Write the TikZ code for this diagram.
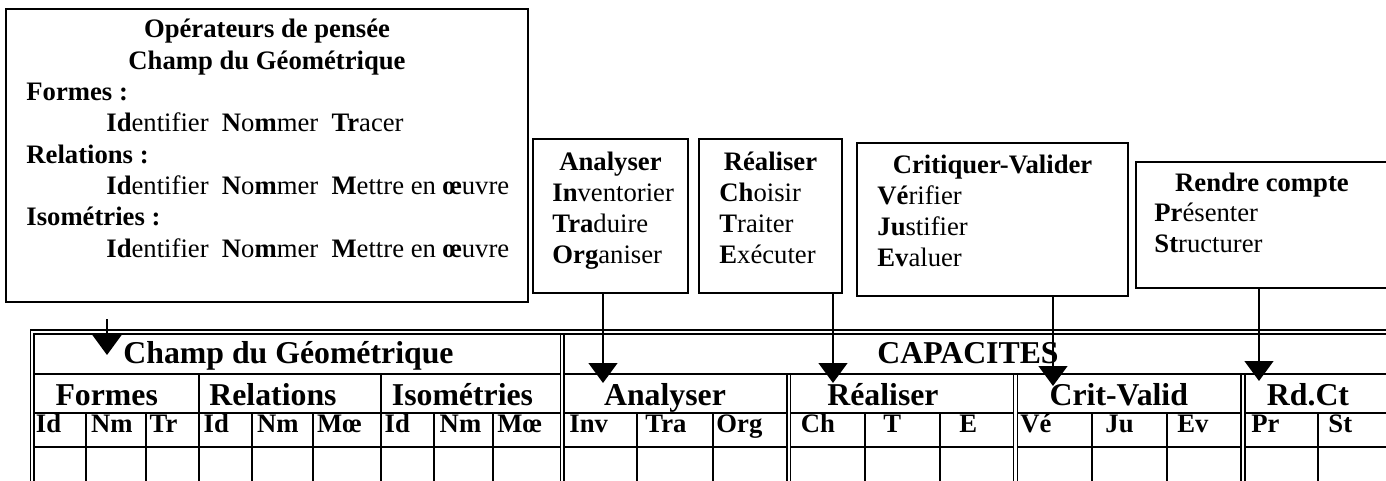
\documentclass[tikz,border=0pt]{standalone}
\usepackage{fontspec}
\setmainfont{Liberation Serif}
\usetikzlibrary{arrows.meta,fit,calc}

\tikzset{
  opbox/.style={draw, line width=0.9pt, inner sep=0pt},
  stem/.style={line width=0.75pt, -{Triangle[width=13pt,length=9pt]}},
  txt/.style={anchor=base west, inner sep=0pt, font=\fontsize{12}{14}\selectfont},
  lbl/.style={txt, font=\fontsize{12}{14}\selectfont\bfseries},
  ttl/.style={anchor=base, inner sep=0pt, font=\fontsize{12}{14}\selectfont\bfseries},
  hd/.style={anchor=base, inner sep=0pt, font=\fontsize{14.3}{17}\selectfont\bfseries},
  sub/.style={anchor=base west, inner sep=0pt, font=\fontsize{12}{14}\selectfont\bfseries},
  tline/.style={line width=0.9pt},
  dline/.style={line width=0.6pt}
}

\begin{document}
\begin{tikzpicture}[x=0.45pt,y=-0.45pt]
\clip (0,0) rectangle (1386,481);

% boxes of operators
\node[opbox, fit={(6,9) (528,302)}] (ops) {};
\node[opbox, fit={(533,139) (688,293)}] (ana) {};
\node[opbox, fit={(699,139) (842,293)}] (rea) {};
\node[opbox, fit={(857,143) (1128,296)}] (crv) {};
\node[opbox, fit={(1136,162) (1390,288)}] (rdc) {};

% text of the big box
\node[ttl] (opsT1) at (267,38) {Opérateurs de pensée};
\node[ttl] (opsT2) at (267,69.3) {Champ du Géométrique};
\foreach \t [count=\i] in {Formes :,Relations :,Isométries :}
  \node[lbl] (opsL\i) at (26,{100.6+62.6*(\i-1)}) {\t};
\node[txt] (opsI1) at (106,131.9) {\textbf{Id}entifier\ \ \textbf{N}o\textbf{m}mer\ \ \textbf{Tr}acer};
\foreach \i/\y in {2/194.5,3/257.1}
  \node[txt] (opsI\i) at (106,\y) {\textbf{Id}entifier\ \ \textbf{N}o\textbf{m}mer\ \ \textbf{M}ettre en \textbf{œ}uvre};

% text of the small boxes
\node[ttl] (anaT) at (610.5,170) {Analyser};
\foreach \t [count=\i] in {{\textbf{In}ventorier},{\textbf{Tra}duire},{\textbf{Org}aniser}}
  \node[txt] (ana\i) at (552,{170+31*\i}) {\t};
\node[ttl] (reaT) at (770.5,170) {Réaliser};
\foreach \t [count=\i] in {{\textbf{Ch}oisir},{\textbf{T}raiter},{\textbf{E}xécuter}}
  \node[txt] (rea\i) at (719,{170+31*\i}) {\t};
\node[ttl] (crvT) at (992.5,173) {Critiquer-Valider};
\foreach \t [count=\i] in {{\textbf{Vé}rifier},{\textbf{Ju}stifier},{\textbf{Ev}aluer}}
  \node[txt] (crv\i) at (877,{173+31*\i}) {\t};
\node[ttl] (rdcT) at (1262,191) {Rendre compte};
\foreach \t [count=\i] in {{\textbf{Pr}ésenter},{\textbf{St}ructurer}}
  \node[txt] (rdc\i) at (1154,{191+30.5*\i}) {\t};

% table frame
\draw[dline] (30.5,481) -- (30.5,330) -- (1390,330);
\draw[dline] (34,481) -- (34,334) -- (1390,334);
\foreach \x in {560.5,564} \draw[dline] (\x,334) -- (\x,481);
\foreach \x in {787,790.5,1013.3,1017.3,1241,1245} \draw[dline] (\x,374) -- (\x,481);
\draw[tline] (34,374) -- (560.5,374) (564,374) -- (1390,374);
\foreach \a/\b in {34/560.5,564/787,790.5/1013.3,1017.3/1241,1245/1390}
  \draw[tline] (\a,413) -- (\b,413) (\a,447) -- (\b,447);
\foreach \x in {199,381} \draw[tline] (\x,374) -- (\x,481);
\foreach \x in {86,145.7,252.3,313.3,434,493.3,637.3,713.3,865,940,1091.7,1166.7,1317.7}
  \draw[tline] (\x,413) -- (\x,481);

% table headers
\node[hd] (hChamp) at (288.5,363) {Champ du Géométrique};
\node[hd] (hCap) at (968,363) {CAPACITES};
\foreach \t/\x [count=\i] in {Formes/106.7,Relations/273,Isométries/462.5,Analyser/665,Réaliser/883,Crit-Valid/1118.8,Rd.Ct/1308}
  \node[hd] (h\i) at (\x,405) {\t};
\foreach \t/\x [count=\i] in {Id/35.5,Nm/90.7,Tr/149.3,Id/203.3,Nm/256.7,Mœ/316.7,Id/384.3,Nm/439.3,Mœ/497,Inv/569,Tra/645,Org/716,Ch/800.5,T/883,E/959,Vé/1020,Ju/1105,Ev/1177,Pr/1251,St/1328}
  \node[sub] (s\i) at (\x,432) {\t};

% arrows
\coordinate (chtip) at (107,355);
\coordinate (anatip) at (603,383);
\coordinate (reatip) at (833,383);
\coordinate (crvtip) at (1053,386);
\coordinate (rdctip) at (1259,381);
\draw[stem] ($(ops.south -| chtip)+(0,16)$) -- (chtip);
\draw[stem] (ana.south -| anatip) -- (anatip);
\draw[stem] (rea.south -| reatip) -- (reatip);
\draw[stem] (crv.south -| crvtip) -- (crvtip);
\draw[stem] (rdc.south -| rdctip) -- (rdctip);
\end{tikzpicture}
\end{document}
